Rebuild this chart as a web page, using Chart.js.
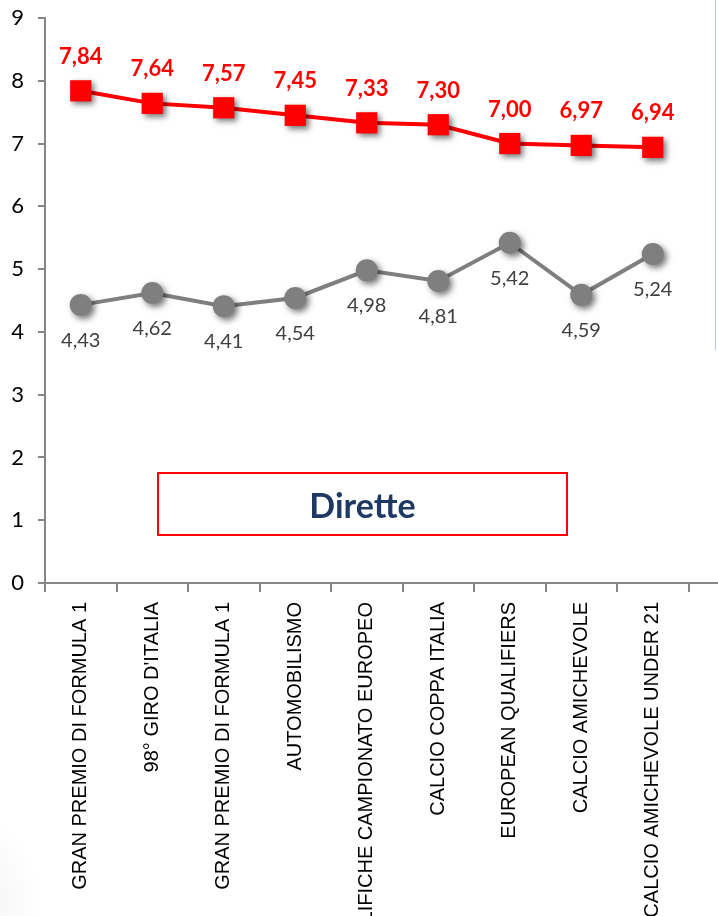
<!DOCTYPE html>
<html><head><meta charset="utf-8">
<script src="https://cdn.jsdelivr.net/npm/chart.js@4.4.0/dist/chart.umd.min.js"></script>
<style>
html,body{margin:0;padding:0;background:#fff;overflow:hidden;width:718px;height:916px;}
#wrap{position:relative;width:718px;height:916px;overflow:hidden;background:#fff;}
#c{position:absolute;left:0;top:0;}
#box{position:absolute;left:157px;top:472px;width:407px;height:60px;border:2px solid #ff0000;display:flex;align-items:center;justify-content:center;font-family:Lato,sans-serif;font-weight:bold;font-size:34px;color:#1f3864;}
#edge{position:absolute;left:715px;top:0;width:1px;height:350px;background:#b9c9e4;}
#corner{position:absolute;left:-60px;top:800px;width:100px;height:200px;background:radial-gradient(ellipse at left center, rgba(0,0,0,0.07), rgba(0,0,0,0) 70%);}
</style></head>
<body><div id="wrap"><canvas id="c" width="775" height="1000"></canvas><div id="box">Dirette</div><div id="edge"></div><div id="corner"></div></div>
<script>
const categories = [
  'GRAN PREMIO DI FORMULA 1',
  "98° GIRO D'ITALIA",
  'GRAN PREMIO DI FORMULA 1',
  'AUTOMOBILISMO',
  'QUALIFICHE CAMPIONATO EUROPEO',
  'CALCIO COPPA ITALIA',
  'EUROPEAN QUALIFIERS',
  'CALCIO AMICHEVOLE',
  'CALCIO AMICHEVOLE UNDER 21',
  ''
];
const redValues  = [7.84, 7.64, 7.57, 7.45, 7.33, 7.30, 7.00, 6.97, 6.94];
const grayValues = [4.43, 4.62, 4.41, 4.54, 4.98, 4.81, 5.42, 4.59, 5.24];
const yMin = 0, yMax = 9, yStep = 1;

const fmt = v => v.toFixed(2).replace('.', ',');

const markerShadow = {
  id: 'markerShadow',
  beforeDatasetDraw(chart, args) {
    const meta = args.meta, ctx = chart.ctx, area = chart.chartArea;
    ctx.save();
    meta.dataset.draw(ctx, area);
    ctx.shadowColor = 'rgba(0,0,0,0.55)';
    ctx.shadowBlur = 6;
    ctx.shadowOffsetX = 3;
    ctx.shadowOffsetY = 3;
    meta.data.forEach(p => p.draw(ctx, area));
    ctx.restore();
    return false;
  }
};

const dataLabels = {
  id: 'dataLabels',
  afterDatasetsDraw(chart) {
    const ctx = chart.ctx;
    chart.data.datasets.forEach((ds, i) => {
      const meta = chart.getDatasetMeta(i);
      const o = ds.labelOpts;
      ctx.save();
      ctx.font = o.font;
      ctx.fillStyle = o.color;
      ctx.textAlign = 'center';
      ctx.textBaseline = 'alphabetic';
      meta.data.forEach((p, j) => {
        const v = ds.data[j];
        if (v == null) return;
        ctx.fillText(fmt(v), p.x, p.y + o.dy);
      });
      ctx.restore();
    });
  }
};

new Chart(document.getElementById('c'), {
  type: 'line',
  data: {
    labels: categories,
    datasets: [
      {
        data: grayValues,
        borderColor: '#7f7f7f',
        backgroundColor: '#7f7f7f',
        borderWidth: 4,
        pointStyle: 'circle',
        pointRadius: 11,
        pointBorderWidth: 0,
        tension: 0,
        labelOpts: { font: '20px Lato', color: '#404040', dy: 42 }
      },
      {
        data: redValues,
        borderColor: '#ff0000',
        backgroundColor: '#ff0000',
        borderWidth: 4,
        pointStyle: 'rect',
        pointRadius: 15,
        pointBorderWidth: 0,
        tension: 0,
        labelOpts: { font: 'bold 22px Lato', color: '#ff0000', dy: -27 }
      }
    ]
  },
  options: {
    responsive: false,
    animation: false,
    devicePixelRatio: 1,
    layout: { padding: { top: 18, left: 0, right: 0, bottom: 0 } },
    plugins: { legend: { display: false }, tooltip: { enabled: false } },
    scales: {
      x: {
        offset: true,
        ticks: {
          autoSkip: false, maxRotation: 90, minRotation: 90,
          color: '#000', font: { family: 'Liberation Sans', size: 20 }, padding: 10
        },
        grid: { offset: true, drawOnChartArea: false, tickLength: 9, color: '#868686', lineWidth: 2 },
        border: { color: '#868686', width: 2 },
        afterFit(s) { s.height = 417; s.paddingLeft = 0; s.paddingRight = 0; }
      },
      y: {
        min: yMin, max: yMax,
        ticks: { stepSize: yStep, color: '#000', font: { family: 'Lato', size: 22 }, padding: 14 },
        grid: { drawOnChartArea: false, tickLength: 7, color: '#868686', lineWidth: 2 },
        border: { color: '#868686', width: 2 },
        afterFit(s) { s.width = 45; s.paddingTop = 0; s.paddingBottom = 0; }
      }
    }
  },
  plugins: [markerShadow, dataLabels]
});
</script>
</body></html>
